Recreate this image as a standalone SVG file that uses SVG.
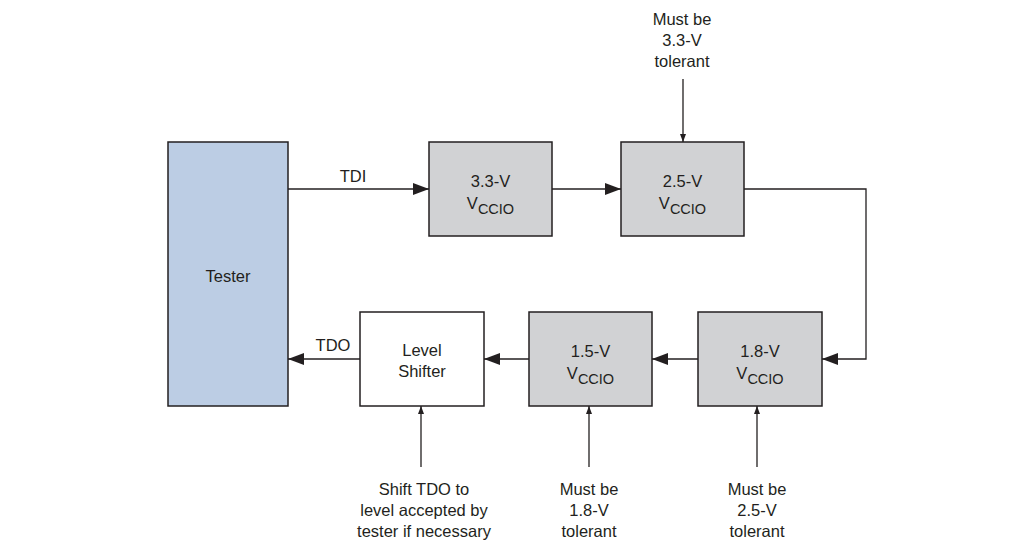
<svg xmlns="http://www.w3.org/2000/svg" width="1018" height="555" viewBox="0 0 1018 555">
<style>
text{font-family:"Liberation Sans",Arial,sans-serif;font-size:16.5px;fill:#231f20;text-anchor:middle}
.box{stroke:#231f20;stroke-width:1.5}
.gray{fill:#d1d2d4}
.blue{fill:#bccde4}
.white{fill:#ffffff}
.c{fill:none;stroke:#231f20;stroke-width:1.3}
.sub{font-size:14.5px}
</style>
<defs>
<marker id="big" viewBox="0 0 16 12" refX="16" refY="6" markerWidth="16" markerHeight="12" markerUnits="userSpaceOnUse" orient="auto">
<path d="M0,0 L16,6 L0,12 Z" fill="#231f20"/>
</marker>
<marker id="small" viewBox="0 0 8 6" refX="8" refY="3" markerWidth="8" markerHeight="6" markerUnits="userSpaceOnUse" orient="auto">
<path d="M0,0 L8,3 L0,6 Z" fill="#231f20"/>
</marker>
</defs>
<rect width="1018" height="555" fill="#ffffff"/>
<g id="tester">
<rect class="box blue" x="168" y="142" width="120" height="264"/>
<text x="228" y="282">Tester</text>
</g>
<g id="v33">
<rect class="box gray" x="429" y="142" width="123" height="94"/>
<text x="490.5" y="187">3.3-V</text>
<text x="490.5" y="209">V<tspan class="sub" dy="5">CCIO</tspan></text>
</g>
<g id="v25">
<rect class="box gray" x="621" y="142" width="123" height="94"/>
<text x="682.5" y="187">2.5-V</text>
<text x="682.5" y="209">V<tspan class="sub" dy="5">CCIO</tspan></text>
</g>
<g id="v18">
<rect class="box gray" x="698" y="312" width="124" height="94"/>
<text x="760" y="357">1.8-V</text>
<text x="760" y="379">V<tspan class="sub" dy="5">CCIO</tspan></text>
</g>
<g id="v15">
<rect class="box gray" x="529" y="312" width="123" height="94"/>
<text x="590.5" y="357">1.5-V</text>
<text x="590.5" y="379">V<tspan class="sub" dy="5">CCIO</tspan></text>
</g>
<g id="levelshifter">
<rect class="box white" x="360" y="312" width="124" height="94"/>
<text x="422" y="356">Level</text>
<text x="422" y="377">Shifter</text>
</g>
<g id="note33">
<text x="682" y="25">Must be</text>
<text x="682" y="46">3.3-V</text>
<text x="682" y="67">tolerant</text>
</g>
<g id="noteshift">
<text x="424" y="495">Shift TDO to</text>
<text x="424" y="516">level accepted by</text>
<text x="424" y="537">tester if necessary</text>
</g>
<g id="note18">
<text x="589" y="495">Must be</text>
<text x="589" y="516">1.8-V</text>
<text x="589" y="537">tolerant</text>
</g>
<g id="note25">
<text x="757" y="495">Must be</text>
<text x="757" y="516">2.5-V</text>
<text x="757" y="537">tolerant</text>
</g>
<g id="connectors">
<line class="c" x1="288" y1="189" x2="429" y2="189" marker-end="url(#big)"/>
<text x="353" y="182">TDI</text>
<line class="c" x1="552" y1="189" x2="621" y2="189" marker-end="url(#big)"/>
<polyline class="c" points="744,189 866,189 866,359 822,359" marker-end="url(#big)"/>
<line class="c" x1="698" y1="359" x2="652" y2="359" marker-end="url(#big)"/>
<line class="c" x1="529" y1="359" x2="484" y2="359" marker-end="url(#big)"/>
<line class="c" x1="360" y1="359" x2="288" y2="359" marker-end="url(#big)"/>
<text x="333" y="351">TDO</text>
<line class="c" x1="683" y1="79" x2="683" y2="142" marker-end="url(#small)"/>
<line class="c" x1="421" y1="467" x2="421" y2="406" marker-end="url(#small)"/>
<line class="c" x1="589" y1="467" x2="589" y2="406" marker-end="url(#small)"/>
<line class="c" x1="757" y1="467" x2="757" y2="406" marker-end="url(#small)"/>
</g>
</svg>
